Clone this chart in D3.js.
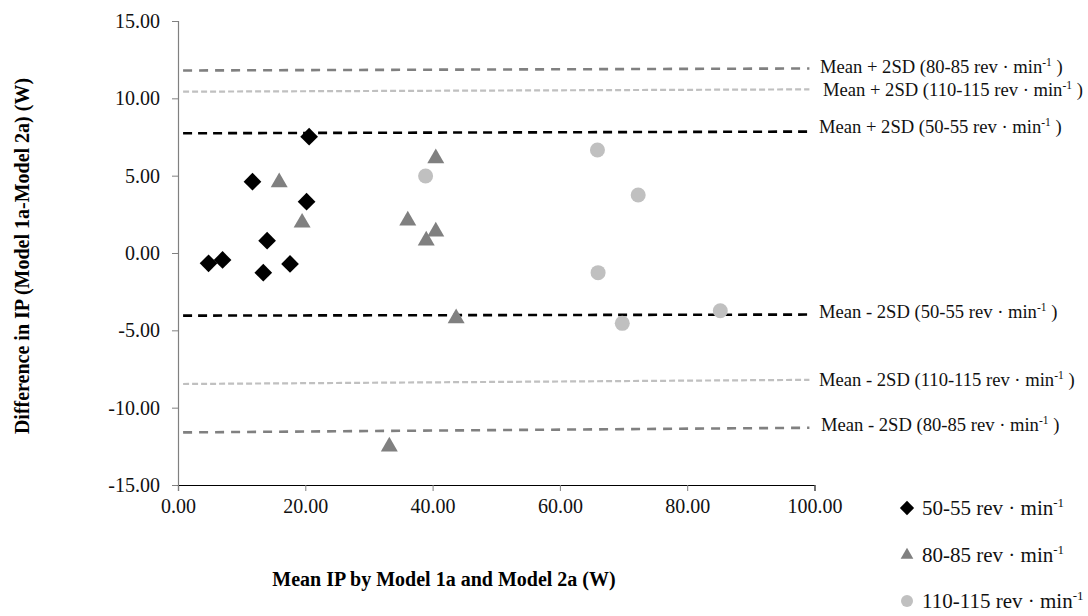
<!DOCTYPE html>
<html lang="en">
<head>
  <meta charset="UTF-8">
  <title>Bland-Altman: Model 1a vs Model 2a</title>
  <script src="https://d3js.org/d3.v7.min.js"></script>
  <style>
    body {
      margin: 0;
      padding: 0;
      background: white;
      font-family: "Liberation Serif", "Times New Roman", serif;
    }
    svg { display: block; }
  </style>
</head>
<body>
  <svg width="1088" height="616"></svg>

  <script>
    // groups (cadence)
    const groups = ["50-55", "80-85", "110-115"];

    // mean IP (x) and difference (y) for each group
    const x5055 = [4.8, 7.0, 11.7, 13.4, 14.0, 17.6, 20.2, 20.6];
    const y5055 = [-0.67, -0.45, 4.61, -1.27, 0.80, -0.71, 3.32, 7.52];

    const x8085 = [15.9, 19.5, 33.2, 36.1, 39.0, 40.5, 40.5, 43.7];
    const y8085 = [4.57, 1.96, -12.52, 2.09, 0.80, 1.38, 6.12, -4.22];

    const x110115 = [38.9, 65.9, 66.0, 69.8, 72.3, 85.2];
    const y110115 = [4.98, 6.66, -1.27, -4.55, 3.75, -3.73];

    // limits of agreement, start / end of each line
    const limitX = [0.8, 99.2];
    const upper5055 = [7.74, 7.85];
    const lower5055 = [-4.05, -3.98];
    const upper8085 = [11.80, 11.93];
    const lower8085 = [-11.60, -11.30];
    const upper110115 = [10.43, 10.58];
    const lower110115 = [-8.47, -8.20];

    const xTicks = [0, 20, 40, 60, 80, 100];
    const yTicks = [-15, -10, -5, 0, 5, 10, 15];

    const svg = d3.select("svg");
    const fontFam = "Liberation Serif";

    const x = d3.scaleLinear().domain([0, 100]).range([178, 814.5]);
    const y = d3.scaleLinear().domain([-15, 15]).range([485, 21]);

    const fmt = d3.formatLocale({ decimal: ".", thousands: ",", grouping: [3], currency: ["", ""], minus: "-" }).format(".2f");

    // y axis
    const yAxis = svg.append("g")
      .attr("transform", "translate(178,0)")
      .call(d3.axisLeft(y).tickValues(yTicks).tickFormat(fmt).tickSizeOuter(0).tickSize(6).tickPadding(12));
    yAxis.select(".domain").attr("stroke", "#808080").attr("stroke-width", 1.2);
    yAxis.selectAll(".tick line").attr("stroke", "#808080");
    yAxis.selectAll("text")
      .attr("font-family", fontFam).attr("font-size", 20).attr("fill", "#111");

    // x axis
    const xAxis = svg.append("g")
      .attr("transform", "translate(0,485)")
      .call(d3.axisBottom(x).tickValues(xTicks).tickFormat(fmt).tickSizeOuter(0).tickSize(6).tickPadding(8));
    xAxis.select(".domain").attr("stroke", "#000").attr("stroke-width", 1.2);
    xAxis.selectAll(".tick line").attr("stroke", "#808080");
    xAxis.selectAll("text")
      .attr("font-family", fontFam).attr("font-size", 20).attr("fill", "#111");

    // limit lines
    const limits = [
      { vals: upper8085, color: "#808080", dash: "9,7", w: 2.6, label: "Mean + 2SD (80-85 rev · min", ly: 67, lx: 820 },
      { vals: upper110115, color: "#c0c0c0", dash: "6,3", w: 2.2, label: "Mean + 2SD (110-115 rev · min", ly: 90, lx: 823 },
      { vals: upper5055, color: "#000000", dash: "9,6", w: 2.6, label: "Mean + 2SD (50-55 rev · min", ly: 127, lx: 819 },
      { vals: lower5055, color: "#000000", dash: "9,6", w: 2.6, label: "Mean - 2SD (50-55 rev · min", ly: 312, lx: 819 },
      { vals: lower110115, color: "#c0c0c0", dash: "6,3", w: 2.2, label: "Mean - 2SD (110-115 rev · min", ly: 380, lx: 819 },
      { vals: lower8085, color: "#808080", dash: "9,7", w: 2.6, label: "Mean - 2SD (80-85 rev · min", ly: 425, lx: 821 }
    ];

    const line = d3.line().x(d => x(d[0])).y(d => y(d[1]));

    limits.forEach(l => {
      svg.append("path")
        .attr("d", line(limitX.map((xv, i) => [xv, l.vals[i]])))
        .attr("fill", "none")
        .attr("stroke", l.color)
        .attr("stroke-width", l.w)
        .attr("stroke-dasharray", l.dash);

      const t = svg.append("text")
        .attr("x", l.lx).attr("y", l.ly + 6)
        .attr("font-family", fontFam).attr("font-size", 18.6).attr("fill", "#111");
      t.append("tspan").text(l.label);
      t.append("tspan").attr("dy", -7).attr("font-size", 11.5).text("-1");
      t.append("tspan").attr("dy", 7).text(" )");
    });

    // points
    const diamond = d3.symbol().type(d3.symbolDiamond2).size(200);
    const triangle = d3.symbol().type(d3.symbolTriangle).size(125);

    svg.append("g").selectAll("path")
      .data(d3.zip(x5055, y5055))
      .join("path")
      .attr("transform", d => `translate(${x(d[0])},${y(d[1])})`)
      .attr("d", diamond)
      .attr("fill", "#000");

    svg.append("g").selectAll("path")
      .data(d3.zip(x8085, y8085))
      .join("path")
      .attr("transform", d => `translate(${x(d[0])},${y(d[1])})`)
      .attr("d", triangle)
      .attr("fill", "#808080");

    svg.append("g").selectAll("circle")
      .data(d3.zip(x110115, y110115))
      .join("circle")
      .attr("cx", d => x(d[0]))
      .attr("cy", d => y(d[1]))
      .attr("r", 7.5)
      .attr("fill", "#c0c0c0");

    // axis titles
    svg.append("text")
      .attr("x", 444).attr("y", 586)
      .attr("text-anchor", "middle")
      .attr("font-family", fontFam).attr("font-size", 20).attr("font-weight", "bold")
      .text("Mean IP by Model 1a and Model 2a (W)");

    svg.append("text")
      .attr("transform", "translate(29,256) rotate(-90)")
      .attr("text-anchor", "middle")
      .attr("font-family", fontFam).attr("font-size", 20).attr("font-weight", "bold")
      .text("Difference in IP (Model 1a-Model 2a) (W)");

    // legend
    const legendRows = [
      { y: 508, shape: "diamond", color: "#000" },
      { y: 555, shape: "triangle", color: "#808080" },
      { y: 601, shape: "circle", color: "#c0c0c0" }
    ];
    const lg = svg.append("g");
    legendRows.forEach((r, i) => {
      if (r.shape === "circle") {
        lg.append("circle").attr("cx", 907).attr("cy", r.y).attr("r", 6).attr("fill", r.color);
      } else {
        const sym = d3.symbol().type(r.shape === "diamond" ? d3.symbolDiamond2 : d3.symbolTriangle)
          .size(r.shape === "diamond" ? 130 : 70);
        lg.append("path").attr("transform", `translate(907,${r.y})`).attr("d", sym).attr("fill", r.color);
      }
      const t = lg.append("text")
        .attr("x", 922).attr("y", r.y + 7)
        .attr("font-family", fontFam).attr("font-size", 21).attr("fill", "#111");
      t.append("tspan").text(groups[i] + " rev · min");
      t.append("tspan").attr("dy", -8).attr("font-size", 13).text("-1");
    });
  </script>
</body>
</html>
